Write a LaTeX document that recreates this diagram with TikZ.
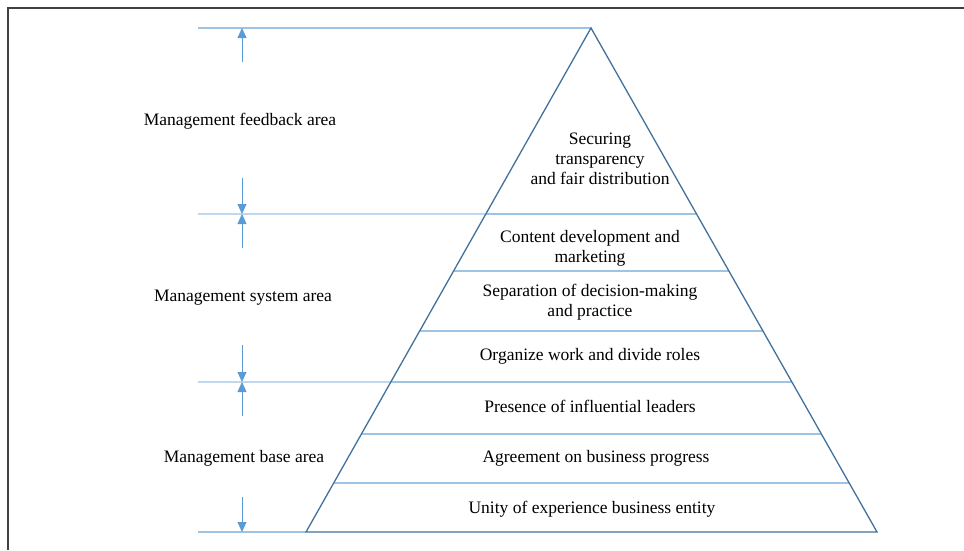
\documentclass[tikz,border=0pt]{standalone}
\usepackage{fontspec}
\setmainfont{Liberation Serif}
\usetikzlibrary{calc,arrows.meta}

\definecolor{edgeblue}{HTML}{41719C}
\definecolor{layerblue}{HTML}{9DC3E6}
\definecolor{markblue}{HTML}{5B9BD5}

\def\xApex{591}
\def\yApex{28}
\def\yBase{532}
\def\xMark{242}
\def\xRule{198}

\begin{document}
\begin{tikzpicture}[x=1pt, y=-1pt, >={Triangle[length=10pt,width=9pt]},
    areatext/.style={font=\fontsize{17.5}{20}\selectfont, align=center, inner sep=0pt},
    layerline/.style={layerblue, line width=1.1pt},
    areamark/.style={markblue, line width=0.8pt, ->}]
  \useasboundingbox (0,0) rectangle (964,550);
  % frame
  \draw[darkgray, line width=1.5pt] (8,550) -- (8,8) -- (964,8);

  \coordinate (apex) at (\xApex,\yApex);
  \coordinate (bl) at (306,\yBase);
  \coordinate (br) at (877,\yBase);

  % layer lines inside the pyramid
  \foreach \y/\n in {214/a, 271/b, 331/c, 382/d, 434/e, 483/f} {
      \pgfmathsetmacro{\t}{(\y-\yApex)/(\yBase-\yApex)}
      \coordinate (l\n) at ($(apex)!\t!(bl)$);
      \coordinate (r\n) at ($(apex)!\t!(br)$);
      \draw[layerline] (l\n) -- (r\n);
  }
  % rules to the left
  \foreach \y/\n in {28/top, 214/a, 382/d, 532/bot} {
      \coordinate (m\n) at (\xRule,\y);
      \coordinate (k\n) at (\xMark,\y);
  }
  \draw[layerline] (mtop) -- (apex);
  \draw[layerline] (ma) -- (la);
  \draw[layerline] (md) -- (ld);
  \draw[layerline] (mbot) -- (bl);

  \draw[edgeblue, line width=1.3pt, line join=miter] (bl) -- (apex) -- (br) -- cycle;

  % area marks
  \coordinate (s1) at (\xMark,62);
  \coordinate (s2) at (\xMark,178);
  \coordinate (s3) at (\xMark,248);
  \coordinate (s4) at (\xMark,345);
  \coordinate (s5) at (\xMark,416);
  \coordinate (s6) at (\xMark,497);
  \draw[areamark] (s1) -- (ktop);
  \draw[areamark] (s2) -- (ka);
  \draw[areamark] (s3) -- (ka);
  \draw[areamark] (s4) -- (kd);
  \draw[areamark] (s5) -- (kd);
  \draw[areamark] (s6) -- (kbot);

  \node[areatext] (feedback) at (240,121) {Management feedback area};
  \node[areatext] (system) at (243,298) {Management system area};
  \node[areatext] (base) at (244,458) {Management base area};

  \node[areatext] (secure) at (600,159) {Securing\\transparency\\and fair distribution};
  \node[areatext] (content) at (590,248) {Content development and\\marketing};
  \node[areatext] (separate) at (590,302) {Separation of decision-making\\and practice};
  \node[areatext] (organize) at (590,356) {Organize work and divide roles};
  \node[areatext] (presence) at (590,406) {Presence of influential leaders};
  \node[areatext] (agree) at (596,458) {Agreement on business progress};
  \node[areatext] (unity) at (592,509) {Unity of experience business entity};
\end{tikzpicture}
\end{document}
